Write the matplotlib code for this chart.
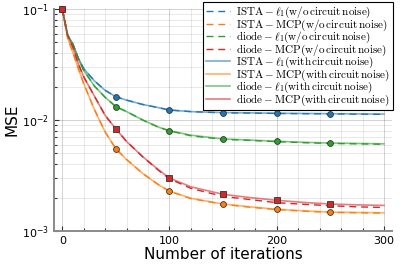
#!/usr/bin/env python3
# -*- coding: utf-8 -*-

import numpy as np
import matplotlib
matplotlib.use("Agg")
import matplotlib.pyplot as plt
from matplotlib.font_manager import FontProperties
from matplotlib.ticker import MultipleLocator, LogLocator

# iterations where the curves were read
iters = [0, 5, 10, 15, 20, 30, 40, 50, 60, 75, 90, 100, 120, 150, 175, 200, 225, 250, 275, 300]

# with circuit noise
ista_l1 = [0.1, 0.058, 0.048, 0.036, 0.029, 0.0225, 0.0185, 0.0162, 0.0151, 0.0138, 0.0129, 0.0123,
           0.0119, 0.01165, 0.0116, 0.0115, 0.01145, 0.0114, 0.01135, 0.0113]
ista_mcp = [0.1, 0.055, 0.0403, 0.029, 0.0213, 0.0124, 0.0078, 0.0055, 0.0044, 0.0033, 0.0026, 0.00229,
            0.00197, 0.00175, 0.00165, 0.00157, 0.00152, 0.00148, 0.00147, 0.00146]
diode_l1 = [0.1, 0.058, 0.048, 0.0355, 0.028, 0.0202, 0.016, 0.0132, 0.0119, 0.0100, 0.0086, 0.0080,
            0.0073, 0.00675, 0.0066, 0.00643, 0.0063, 0.0062, 0.00615, 0.0061]
diode_mcp = [0.1, 0.058, 0.045, 0.032, 0.0245, 0.0164, 0.011, 0.0083, 0.0064, 0.00467, 0.00355, 0.0030,
             0.0025, 0.00214, 0.0020, 0.00189, 0.00181, 0.00175, 0.00172, 0.0017]

# without circuit noise
ista_l1_clean = [0.1, 0.058, 0.048, 0.036, 0.029, 0.0225, 0.0185, 0.0162, 0.0151, 0.0138, 0.0129, 0.0123,
                 0.0119, 0.0116, 0.01155, 0.01145, 0.0114, 0.01135, 0.0113, 0.01125]
ista_mcp_clean = [0.1, 0.055, 0.0403, 0.029, 0.0213, 0.0124, 0.0078, 0.0055, 0.0044, 0.0033, 0.0026, 0.00228,
                  0.00196, 0.00174, 0.00164, 0.00156, 0.00151, 0.00147, 0.00146, 0.00145]
diode_l1_clean = [0.1, 0.058, 0.048, 0.0355, 0.028, 0.0202, 0.016, 0.0132, 0.0119, 0.0100, 0.0086, 0.0080,
                  0.0072, 0.0067, 0.00655, 0.00638, 0.00625, 0.00615, 0.0061, 0.00605]
diode_mcp_clean = [0.1, 0.058, 0.045, 0.032, 0.0245, 0.0164, 0.011, 0.0083, 0.0064, 0.00467, 0.0035, 0.00295,
                   0.00242, 0.00205, 0.00192, 0.0018, 0.00174, 0.00169, 0.00165, 0.00163]

marker_iters = [0, 50, 100, 150, 200, 250]

labels_clean = [r"$\mathrm{ISTA}-\ell_1(\mathrm{w/o\,circuit\,noise})$",
                r"$\mathrm{ISTA}-\mathrm{MCP}(\mathrm{w/o\,circuit\,noise})$",
                r"$\mathrm{diode}-\ell_1(\mathrm{w/o\,circuit\,noise})$",
                r"$\mathrm{diode}-\mathrm{MCP}(\mathrm{w/o\,circuit\,noise})$"]
labels_noise = [r"$\mathrm{ISTA}-\ell_1(\mathrm{with\,circuit\,noise})$",
                r"$\mathrm{ISTA}-\mathrm{MCP}(\mathrm{with\,circuit\,noise})$",
                r"$\mathrm{diode}-\ell_1(\mathrm{with\,circuit\,noise})$",
                r"$\mathrm{diode}-\mathrm{MCP}(\mathrm{with\,circuit\,noise})$"]

colors = ["#1f77b4", "#ff7f0e", "#2ca02c", "#d62728"]


def main():
    x = np.array(iters)
    clean = [ista_l1_clean, ista_mcp_clean, diode_l1_clean, diode_mcp_clean]
    noise = [ista_l1, ista_mcp, diode_l1, diode_mcp]

    fig = plt.figure(figsize=(4, 2.67), dpi=100)
    ax = fig.add_axes([54 / 400, 1 - 231 / 267, 338 / 400, 222 / 267])

    # dashed: no circuit noise
    for y, c, lab in zip(clean, colors, labels_clean):
        ax.plot(x, y, color=c, lw=1.0, dashes=(5, 3.5), label=lab)
    # solid: with circuit noise
    for y, c, lab in zip(noise, colors, labels_noise):
        ax.plot(x, y, "-", color=c, lw=1.2, alpha=0.6, label=lab)

    # markers on the noisy curves
    mask = np.isin(x, marker_iters)
    shapes = ["o", "o", "o", "s"]
    sizes = [4.2, 4.2, 4.2, 5.0]
    for y, c, m, s in zip(noise, colors, shapes, sizes):
        ax.plot(x[mask], np.array(y)[mask], ls="none", marker=m, ms=s, mfc=c,
                mec="#333333", mew=0.6, clip_on=False, zorder=5)

    ax.set_yscale("log")
    ax.set_ylim(1e-3, 1e-1)
    ax.set_xlim(-7.7, 307.5)
    ax.xaxis.set_major_locator(MultipleLocator(100))
    ax.xaxis.set_minor_locator(MultipleLocator(20))
    ax.yaxis.set_major_locator(LogLocator(base=10))
    ax.yaxis.set_minor_locator(LogLocator(base=10, subs=np.arange(2, 10)))

    ax.grid(True, which="major", color="#000000", alpha=0.2, lw=0.6)
    ax.grid(True, which="minor", color="#000000", alpha=0.1, lw=0.6)
    ax.tick_params(which="both", direction="in", labelsize=8, color="#333333", width=0.8)
    ax.tick_params(which="major", length=3.5)
    ax.tick_params(which="minor", length=2)

    # only left and bottom axis lines, as in the original
    ax.spines["top"].set_visible(False)
    ax.spines["right"].set_visible(False)
    for side in ["left", "bottom"]:
        ax.spines[side].set_color("#8a8a8a")
        ax.spines[side].set_linewidth(1.4)

    ax.set_xlabel("Number of iterations", fontsize=11, labelpad=1)
    ax.set_ylabel("MSE", fontsize=11, labelpad=2)

    prop = FontProperties(size=8, math_fontfamily="cm")
    leg = ax.legend(loc="upper right", bbox_to_anchor=(393 / 400, 1 - 2 / 267),
                    bbox_transform=fig.transFigure, prop=prop, fancybox=False,
                    framealpha=1, edgecolor="black", handlelength=2.2,
                    labelspacing=-0.25, borderpad=0.25, handletextpad=0.5,
                    borderaxespad=0)
    leg.get_frame().set_linewidth(0.8)
    leg.set_zorder(10)

    fig.savefig("out.png", dpi=100)
    plt.close(fig)


if __name__ == "__main__":
    main()
